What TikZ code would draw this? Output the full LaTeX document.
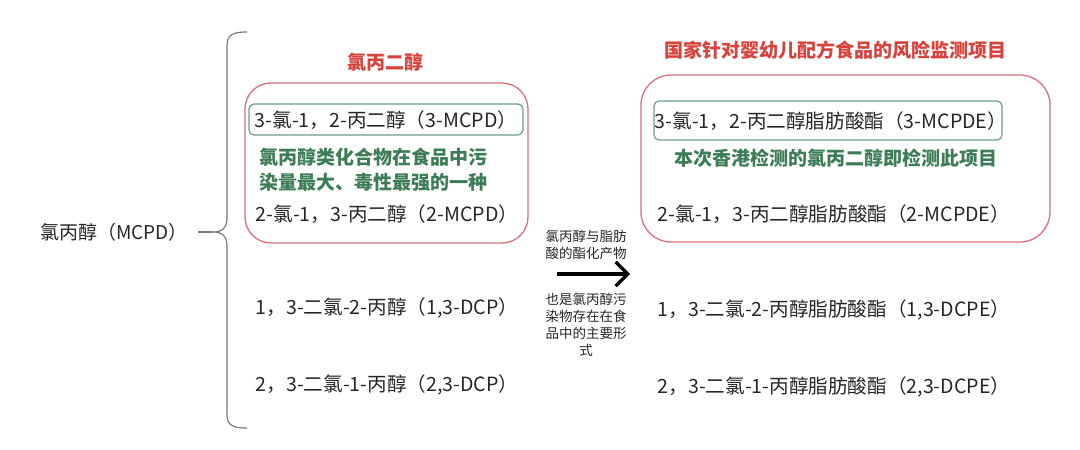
\documentclass[tikz,border=0pt]{standalone}
\usepackage{fontspec}
\setmainfont{Noto Sans CJK SC}
\usetikzlibrary{arrows.meta}
\definecolor{titlered}{HTML}{D9413B}
\definecolor{boxred}{HTML}{D9707A}
\definecolor{notegreen}{HTML}{3C7D56}
\definecolor{boxgreen}{HTML}{6E9C86}
\definecolor{textgray}{HTML}{262626}
\definecolor{bracegray}{HTML}{7A7A7A}
\tikzset{
  txt/.style={inner sep=0pt, text=textgray, font=\fontsize{19.6}{22}\selectfont},
  title/.style={inner sep=0pt, text=titlered, font=\bfseries\fontsize{19}{22}\selectfont},
  note/.style={inner sep=0pt, text=notegreen, align=left, font=\bfseries\fontsize{19}{25}\selectfont},
  small/.style={inner sep=0pt, text=textgray, align=center, font=\fontsize{13.5}{17}\selectfont},
  redbox/.style={draw=boxred, line width=1.3pt, rounded corners=26pt, inner sep=0pt},
  greenbox/.style={draw=boxgreen, line width=1.2pt, rounded corners=5pt, inner sep=0pt},
}
\begin{document}
\begin{tikzpicture}[x=1pt,y=-1pt]
\useasboundingbox (0,0) rectangle (1080,450);
% boxes
\node[redbox, minimum width=283pt, minimum height=160pt] (lbox) at (386.5,163) {};
\node[greenbox, minimum width=274pt, minimum height=31pt] (lgbox) at (386,119.5) {};
\node[redbox, rounded corners=30pt, minimum width=409pt, minimum height=167pt] (rbox) at (845.5,158.5) {};
\node[greenbox, minimum width=348pt, minimum height=39pt] (rgbox) at (828,120.5) {};
% left label and brace
\node[txt, anchor=west, font=\fontsize{19}{22}\selectfont] (mcpd) at (40,232) {氯丙醇（MCPD）};
\coordinate (tick) at (198,232);
\coordinate (cusp) at (213,232);
\draw[bracegray, line width=1.2pt] (tick) -- (cusp);
\draw[bracegray, line width=1.2pt]
  (247,32) .. controls (232,32) and (227,35) .. (227,46) -- (227,218)
  .. controls (227,228) and (222,232) .. (cusp)
  .. controls (222,232) and (227,236) .. (227,246) -- (227,414)
  .. controls (227,425) and (232,428) .. (247,428);
% left column
\node[title] (ltitle) at (385,62) {氯丙二醇};
\node[txt] (l1) at (386,120) {3-氯-1，2-丙二醇（3-MCPD）};
\node[note, anchor=west] (lnote) at (259,169.5) {氯丙醇类化合物在食品中污\\染量最大、毒性最强的一种};
\node[txt] (l2) at (387,214) {2-氯-1，3-丙二醇（2-MCPD）};
\node[txt] (l3) at (387,308) {1，3-二氯-2-丙醇（1,3-DCP）};
\node[txt] (l4) at (387,385) {2，3-二氯-1-丙醇（2,3-DCP）};
% middle arrow
\node[small] (atop) at (586,244.5) {氯丙醇与脂肪\\酸的酯化产物};
\coordinate (as) at (557,274);
\coordinate (ae) at (630,274);
\draw[line width=3.2pt, -{Straight Barb[length=12pt,width=24pt]}] (as) -- (ae);
\node[small] (abot) at (586,325) {也是氯丙醇污\\染物存在在食\\品中的主要形\\式};
% right column
\node[title] (rtitle) at (835,50) {国家针对婴幼儿配方食品的风险监测项目};
\node[txt] (r1) at (831,121) {3-氯-1，2-丙二醇脂肪酸酯（3-MCPDE）};
\node[note] (rnote) at (836,158) {本次香港检测的氯丙二醇即检测此项目};
\node[txt] (r2) at (834,214) {2-氯-1，3-丙二醇脂肪酸酯（2-MCPDE）};
\node[txt] (r3) at (834,310) {1，3-二氯-2-丙醇脂肪酸酯（1,3-DCPE）};
\node[txt] (r4) at (834,387) {2，3-二氯-1-丙醇脂肪酸酯（2,3-DCPE）};
\end{tikzpicture}
\end{document}
